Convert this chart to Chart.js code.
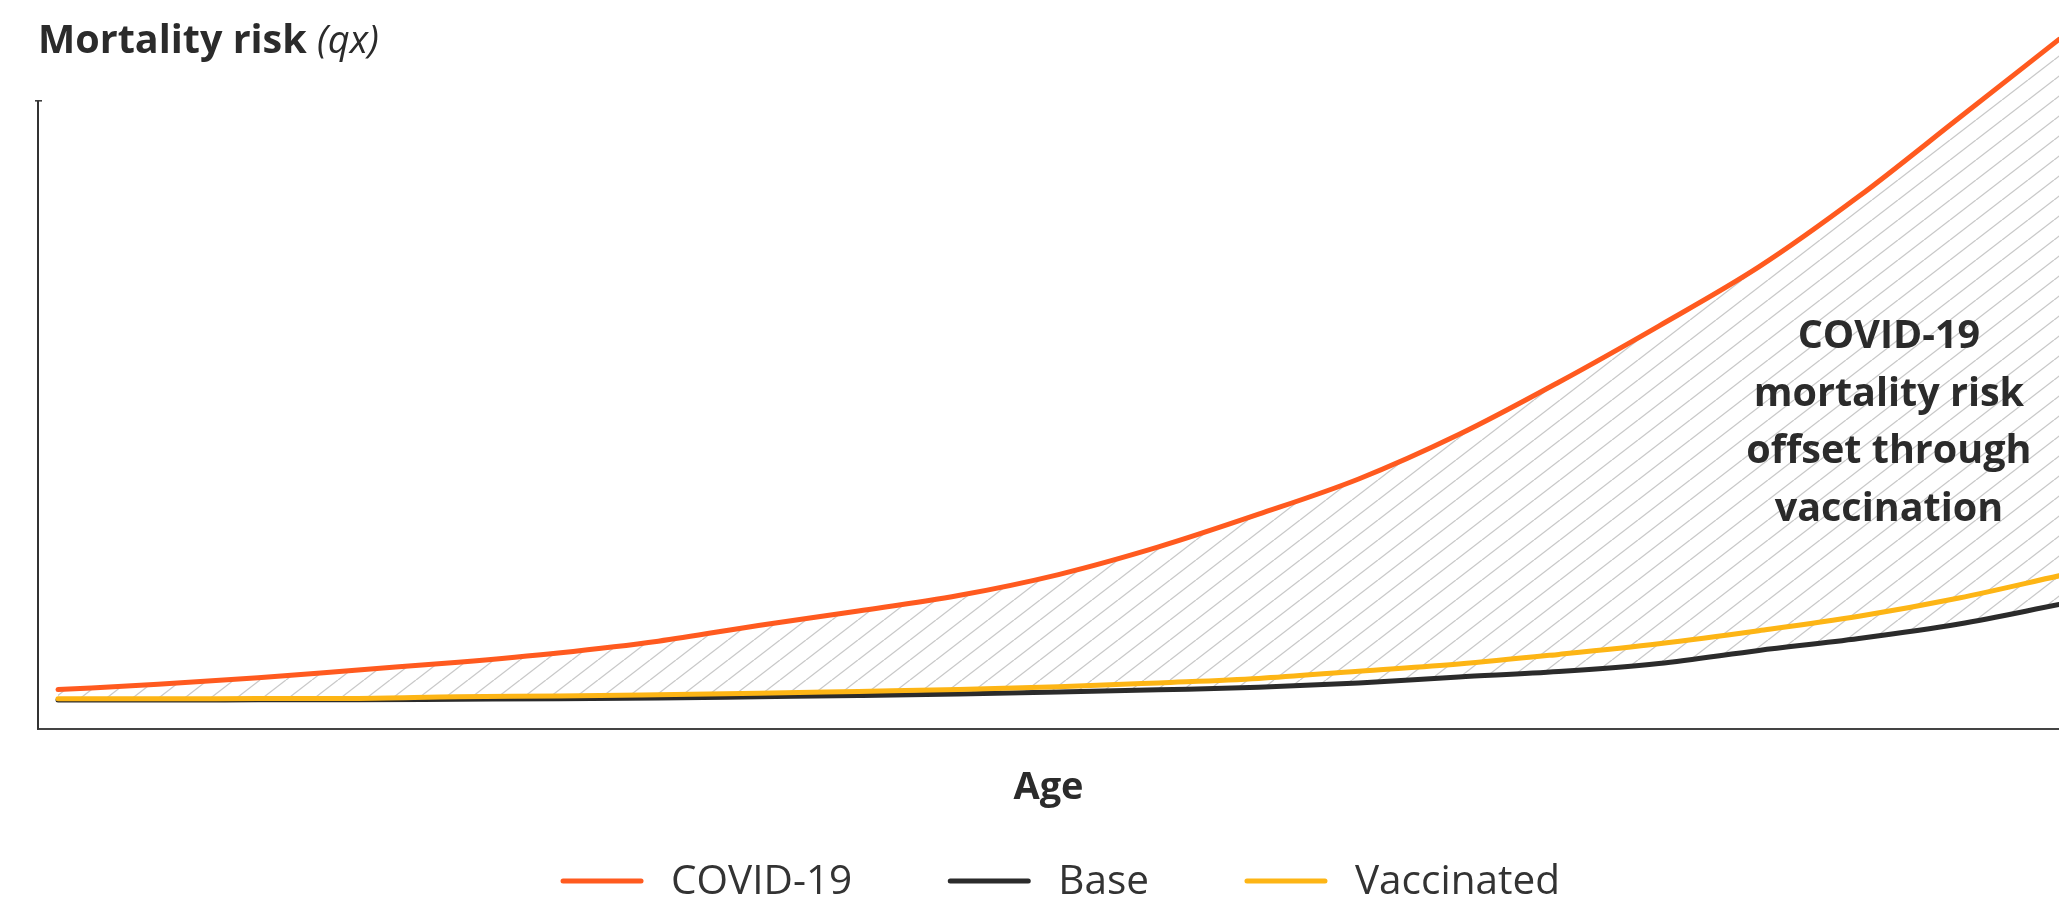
<!DOCTYPE html>
<html>
<head>
<meta charset="utf-8">
<script src="https://cdn.jsdelivr.net/npm/chart.js@4.4.1/dist/chart.umd.min.js"></script>
<style>
  html, body { margin: 0; padding: 0; background: #fff; }
  #wrap { width: 2059px; height: 899px; position: relative; }
</style>
</head>
<body>
<div id="wrap"><canvas id="chart" role="img" aria-label="Mortality risk by age: COVID-19, Base and Vaccinated"></canvas></div>
<script>
// valores (qx), una muestra cada 4 años
const ages = [20, 24, 28, 32, 36, 40, 44, 48, 52, 56, 60, 64, 68, 72, 76, 80, 84, 88, 92, 96, 100];
const covid = [0.0190, 0.0215, 0.0246, 0.0284, 0.0321, 0.0365, 0.0421, 0.0496, 0.0565, 0.0639, 0.0739,
  0.0871, 0.1027, 0.1195, 0.1407, 0.1657, 0.1925, 0.2207, 0.2544, 0.2918, 0.3293];
const base = [0.0140, 0.0140, 0.0141, 0.0142, 0.0144, 0.0146, 0.0150, 0.0156, 0.0162, 0.0169, 0.0178,
  0.0189, 0.0201, 0.0222, 0.0250, 0.0276, 0.0315, 0.0377, 0.0434, 0.0503, 0.0596];
const vaccinated = [0.0146, 0.0146, 0.0147, 0.0148, 0.0156, 0.0159, 0.0165, 0.0172, 0.0181, 0.0190, 0.0203,
  0.0222, 0.0243, 0.0278, 0.0312, 0.0358, 0.0409, 0.0471, 0.0540, 0.0627, 0.0733];
const seriesNames = ['COVID-19', 'Base', 'Vaccinated'];
const noteLines = ['COVID-19', 'mortality risk', 'offset through', 'vaccination'];
const axisTop = 0.3; // donde termina el eje vertical dibujado

const FONT = '"Open Sans", "Noto Sans", sans-serif';
const INK = '#2b2b2b';

function hatch() {
  const c = document.createElement('canvas');
  c.width = 26; c.height = 20;
  const g = c.getContext('2d');
  g.strokeStyle = '#c9c9c9';
  g.lineWidth = 1.3;
  for (const dx of [-26, 0, 26]) {
    g.beginPath(); g.moveTo(dx, 20); g.lineTo(dx + 26, 0); g.stroke();
  }
  return g.createPattern(c, 'repeat');
}

const pts = (ys) => ages.map((a, i) => ({ x: a, y: ys[i] }));

const lineBase = {
  borderWidth: 5, pointRadius: 0, pointHoverRadius: 0,
  cubicInterpolationMode: 'monotone', borderCapStyle: 'round', borderJoinStyle: 'round', clip: false,
};

// titulo, eje vertical, nota y leyenda
const decor = {
  id: 'decor',
  afterDatasetsDraw(chart) {
    const { ctx, chartArea, scales: { x, y } } = chart;
    ctx.save();
    // eje y
    const yTop = y.getPixelForValue(axisTop);
    ctx.strokeStyle = '#333';
    ctx.lineWidth = 2;
    ctx.beginPath(); ctx.moveTo(chartArea.left, yTop); ctx.lineTo(chartArea.left, chartArea.bottom); ctx.stroke();
    ctx.lineWidth = 1.5;
    ctx.beginPath(); ctx.moveTo(chartArea.left - 3, yTop); ctx.lineTo(chartArea.left + 4, yTop); ctx.stroke();

    // titulo
    ctx.fillStyle = INK;
    ctx.textBaseline = 'alphabetic';
    ctx.textAlign = 'left';
    ctx.font = 'bold 39.5px ' + FONT;
    ctx.fillText('Mortality risk', 38, 53);
    const w = ctx.measureText('Mortality risk ').width;
    ctx.font = 'italic 38px ' + FONT;
    ctx.fillText('(qx)', 38 + w, 53);

    // nota
    ctx.font = 'bold 39.5px ' + FONT;
    ctx.textAlign = 'center';
    ctx.textBaseline = 'middle';
    const nx = x.getPixelForValue(93.2);
    const ny = y.getPixelForValue(0.1476);
    noteLines.forEach((t, i) => ctx.fillText(t, nx, ny + 3 + (i - 1.5) * 57.7));

    // leyenda
    const sw = 82, gap = 28, between = 96, ly = 881;
    ctx.font = '40.5px ' + FONT;
    ctx.textAlign = 'left';
    const items = chart.data.datasets.map((d) => ({ text: d.label, color: d.borderColor, w: ctx.measureText(d.label).width }));
    const total = items.reduce((s, it) => s + sw + gap + it.w, 0) + between * (items.length - 1);
    let lx = (chartArea.left + chartArea.right) / 2 + 12 - total / 2;
    items.forEach((it) => {
      ctx.strokeStyle = it.color;
      ctx.lineWidth = 5;
      ctx.lineCap = 'round';
      ctx.beginPath(); ctx.moveTo(lx + 2, ly); ctx.lineTo(lx + sw - 2, ly); ctx.stroke();
      ctx.fillStyle = '#333';
      ctx.fillText(it.text, lx + sw + gap, ly + 1);
      lx += sw + gap + it.w + between;
    });
    ctx.restore();
  },
};

new Chart(document.getElementById('chart'), {
  type: 'line',
  data: {
    datasets: [
      { ...lineBase, label: seriesNames[0], data: pts(covid), borderColor: '#FF5A1F', backgroundColor: hatch(), fill: 1, order: 0 },
      { ...lineBase, label: seriesNames[1], data: pts(base), borderColor: '#2B2B2B', fill: false, order: 2 },
      { ...lineBase, label: seriesNames[2], data: pts(vaccinated), borderColor: '#FDB515', fill: false, order: 1 },
    ],
  },
  options: {
    responsive: true,
    maintainAspectRatio: false,
    animation: false,
    events: [],
    layout: { padding: { top: 17, left: 38, right: 0, bottom: 88 } },
    plugins: {
      legend: { display: false },
      tooltip: { enabled: false },
      filler: { drawTime: 'beforeDatasetsDraw' },
    },
    scales: {
      x: {
        type: 'linear', min: 19.2, max: 100,
        ticks: { display: false },
        grid: { display: false, drawTicks: false },
        border: { display: true, color: '#444', width: 2 },
        title: { display: true, text: 'Age', color: INK, font: { family: FONT, size: 38, weight: 'bold' }, padding: { top: 36, bottom: 0 } },
      },
      y: {
        display: false, min: 0, max: 0.34,
      },
    },
  },
  plugins: [decor],
});
</script>
</body>
</html>
